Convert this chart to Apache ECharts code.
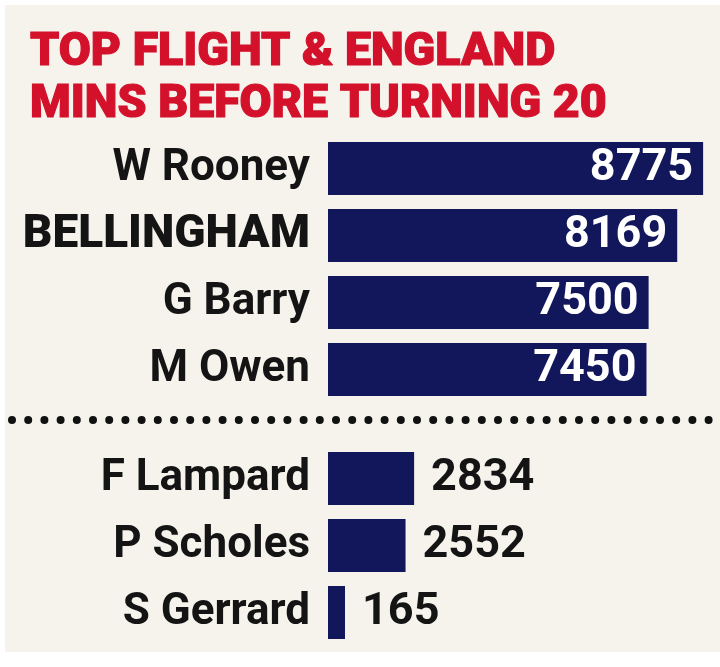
<!DOCTYPE html>
<html>
<head>
<meta charset="utf-8">
<style>
html,body{margin:0;padding:0;background:#ffffff;}
#chart{width:720px;height:667px;}
</style>
<script src="https://cdn.jsdelivr.net/npm/echarts@6/dist/echarts.min.js"></script>
</head>
<body>
<div id="chart"></div>
<script>
const titleLines = ['TOP FLIGHT & ENGLAND', 'MINS BEFORE TURNING 20'];
const topPlayers = ['W Rooney', 'BELLINGHAM', 'G Barry', 'M Owen'];
const topMinutes = [8775, 8169, 7500, 7450];
const otherPlayers = ['F Lampard', 'P Scholes', 'S Gerrard'];
const otherMinutes = [2834, 2552, 165];
const highlight = 'BELLINGHAM';

const chart = echarts.init(document.getElementById('chart'), null, {renderer: 'canvas'});
const FONT = 'Roboto';
const NAVY = '#12175b';
const INK = '#141414';

function catAxis(gridIndex, data) {
  return {
    type: 'category', gridIndex: gridIndex, data: data, inverse: true,
    axisLine: {show: false}, axisTick: {show: false},
    axisLabel: {
      margin: 18, fontFamily: FONT, fontSize: 44, fontWeight: 700, color: INK,
      formatter: v => v === highlight ? '{b|' + v + '}' : v,
      rich: {b: {fontFamily: FONT, fontSize: 46, fontWeight: 900, color: INK}}
    }
  };
}
function valAxis(gridIndex, max) {
  return {type: 'value', gridIndex: gridIndex, min: 0, max: max, show: false, splitLine: {show: false}};
}

chart.setOption({
  backgroundColor: '#ffffff',
  animation: false,
  title: {
    text: titleLines.join('\n'), left: 25, top: 22,
    textStyle: {fontFamily: FONT, fontSize: 46.5, fontWeight: 900, color: '#d4112b', lineHeight: 52,
                textBorderColor: '#d4112b', textBorderWidth: 1.2}
  },
  graphic: [
    {type: 'rect', z: -10, silent: true, shape: {x: 5, y: 5, width: 715, height: 647}, style: {fill: '#f5f3ec'}},
    {type: 'line', z: 5, silent: true, shape: {x1: 12, y1: 420, x2: 720, y2: 420},
     style: {stroke: '#111111', lineWidth: 8, lineCap: 'round', lineDash: [0, 16.2]}}
  ],
  grid: [
    {left: 328, right: 0, top: 135, height: 268},
    {left: 328, right: 0, top: 445, height: 201}
  ],
  xAxis: [valAxis(0, 9170), valAxis(1, 12900)],
  yAxis: [catAxis(0, topPlayers), catAxis(1, otherPlayers)],
  series: [
    {type: 'bar', xAxisIndex: 0, yAxisIndex: 0, data: topMinutes, barWidth: 53,
     itemStyle: {color: NAVY},
     label: {show: true, position: 'insideRight', distance: 10, color: '#ffffff',
             fontFamily: FONT, fontSize: 45, fontWeight: 700}},
    {type: 'bar', xAxisIndex: 1, yAxisIndex: 1, data: otherMinutes, barWidth: 53, barMinHeight: 17,
     itemStyle: {color: NAVY},
     label: {show: true, position: 'right', distance: 17, color: INK,
             fontFamily: FONT, fontSize: 45, fontWeight: 700}}
  ]
});
</script>
</body>
</html>
